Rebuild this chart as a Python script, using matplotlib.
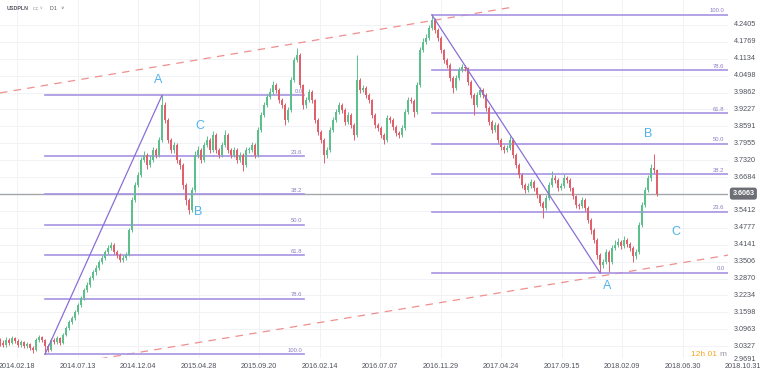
import numpy as np
import matplotlib
matplotlib.use("Agg")
import matplotlib.pyplot as plt

plt.rcParams['font.family'] = ['Liberation Sans', 'DejaVu Sans']

# USDPLN D1 (one candle kept per ~3 px of the original)
first_open = 3.050
closes = [3.045, 3.037, 3.056, 3.045, 3.063, 3.052, 3.037, 3.048, 3.033, 3.041,
          3.026, 3.018, 3.056, 3.067, 3.056, 3.033, 3.018, 3.056, 3.048, 3.063,
          3.045, 3.075, 3.101, 3.123, 3.138, 3.161, 3.187, 3.214, 3.244, 3.263,
          3.289, 3.311, 3.327, 3.349, 3.364, 3.387, 3.402, 3.413, 3.387, 3.376,
          3.357, 3.364, 3.376, 3.469, 3.582, 3.639, 3.676, 3.733, 3.752, 3.714,
          3.733, 3.770, 3.752, 3.808, 3.940, 3.883, 3.808, 3.770, 3.789, 3.733,
          3.714, 3.639, 3.582, 3.545, 3.620, 3.752, 3.770, 3.733, 3.789, 3.808,
          3.770, 3.827, 3.770, 3.752, 3.789, 3.827, 3.770, 3.752, 3.770, 3.733,
          3.752, 3.714, 3.770, 3.772, 3.789, 3.752, 3.846, 3.902, 3.940, 3.970,
          3.989, 4.015, 3.996, 3.958, 3.940, 3.883, 3.921, 4.034, 4.109, 4.128,
          4.015, 3.940, 3.958, 3.989, 3.958, 3.883, 3.838, 3.808, 3.752, 3.770,
          3.846, 3.883, 3.913, 3.940, 3.921, 3.876, 3.902, 3.864, 3.827, 4.034,
          3.996, 4.004, 3.977, 3.958, 3.902, 3.864, 3.853, 3.827, 3.808, 3.891,
          3.883, 3.857, 3.834, 3.827, 3.853, 3.913, 3.958, 3.955, 3.913, 4.015,
          4.146, 4.177, 4.192, 4.229, 4.259, 4.222, 4.192, 4.146, 4.109, 4.090,
          4.041, 4.004, 4.041, 4.071, 4.083, 4.079, 4.026, 3.977, 3.940, 3.977,
          3.996, 3.977, 3.928, 3.876, 3.846, 3.864, 3.808, 3.782, 3.770, 3.778,
          3.808, 3.752, 3.714, 3.676, 3.639, 3.620, 3.635, 3.650, 3.627, 3.601,
          3.571, 3.552, 3.590, 3.639, 3.665, 3.658, 3.627, 3.635, 3.665, 3.658,
          3.627, 3.597, 3.564, 3.560, 3.582, 3.552, 3.507, 3.469, 3.432, 3.376,
          3.338, 3.349, 3.387, 3.349, 3.402, 3.413, 3.424, 3.409, 3.432, 3.417,
          3.402, 3.372, 3.387, 3.488, 3.564, 3.620, 3.665, 3.703, 3.695, 3.6063]
highs = [3.062, 3.056, 3.066, 3.064, 3.071, 3.068, 3.058, 3.057, 3.053, 3.050,
         3.046, 3.032, 3.064, 3.075, 3.072, 3.060, 3.040, 3.063, 3.062, 3.070,
         3.068, 3.082, 3.110, 3.131, 3.147, 3.170, 3.196, 3.222, 3.252, 3.272,
         3.297, 3.320, 3.336, 3.358, 3.374, 3.396, 3.412, 3.425, 3.420, 3.395,
         3.383, 3.374, 3.386, 3.478, 3.592, 3.650, 3.688, 3.745, 3.768, 3.760,
         3.748, 3.782, 3.778, 3.820, 3.976, 3.952, 3.890, 3.815, 3.800, 3.795,
         3.742, 3.720, 3.645, 3.590, 3.630, 3.765, 3.785, 3.778, 3.800, 3.822,
         3.815, 3.840, 3.833, 3.778, 3.800, 3.845, 3.834, 3.778, 3.782, 3.776,
         3.764, 3.758, 3.780, 3.782, 3.800, 3.795, 3.856, 3.912, 3.952, 3.982,
         4.002, 4.030, 4.022, 4.002, 3.965, 3.946, 3.932, 4.045, 4.120, 4.154,
         4.134, 4.020, 3.970, 4.000, 3.995, 3.964, 3.890, 3.845, 3.815, 3.782,
         3.856, 3.895, 3.925, 3.952, 3.948, 3.928, 3.912, 3.910, 3.870, 4.128,
         4.042, 4.016, 4.010, 3.984, 3.964, 3.908, 3.872, 3.860, 3.834, 3.902,
         3.898, 3.890, 3.864, 3.842, 3.864, 3.924, 3.970, 3.968, 3.962, 4.026,
         4.158, 4.190, 4.206, 4.242, 4.278, 4.266, 4.230, 4.198, 4.152, 4.118,
         4.096, 4.048, 4.052, 4.082, 4.094, 4.090, 4.084, 4.032, 3.984, 3.988,
         4.008, 4.004, 3.984, 3.934, 3.882, 3.875, 3.870, 3.815, 3.790, 3.790,
         3.822, 3.814, 3.758, 3.720, 3.682, 3.646, 3.645, 3.662, 3.656, 3.632,
         3.606, 3.578, 3.600, 3.650, 3.690, 3.675, 3.664, 3.646, 3.680, 3.672,
         3.664, 3.632, 3.602, 3.572, 3.594, 3.588, 3.558, 3.514, 3.476, 3.440,
         3.384, 3.362, 3.398, 3.394, 3.414, 3.430, 3.440, 3.432, 3.446, 3.440,
         3.424, 3.408, 3.398, 3.498, 3.575, 3.632, 3.678, 3.718, 3.757, 3.700]
lows = [3.035, 3.028, 3.031, 3.038, 3.040, 3.044, 3.030, 3.031, 3.025, 3.027,
        3.018, 3.008, 3.014, 3.050, 3.048, 3.002, 3.010, 3.015, 3.040, 3.042,
        3.038, 3.041, 3.070, 3.095, 3.115, 3.132, 3.155, 3.180, 3.208, 3.236,
        3.256, 3.281, 3.302, 3.320, 3.341, 3.357, 3.380, 3.395, 3.378, 3.365,
        3.348, 3.350, 3.356, 3.370, 3.462, 3.575, 3.630, 3.668, 3.725, 3.700,
        3.705, 3.726, 3.742, 3.745, 3.800, 3.872, 3.796, 3.760, 3.760, 3.722,
        3.700, 3.625, 3.565, 3.530, 3.538, 3.612, 3.742, 3.722, 3.726, 3.780,
        3.760, 3.764, 3.760, 3.740, 3.745, 3.780, 3.760, 3.740, 3.745, 3.722,
        3.725, 3.690, 3.708, 3.760, 3.762, 3.740, 3.745, 3.838, 3.895, 3.932,
        3.962, 3.982, 3.985, 3.948, 3.930, 3.866, 3.875, 3.915, 4.026, 4.100,
        4.005, 3.925, 3.930, 3.950, 3.948, 3.872, 3.828, 3.795, 3.721, 3.740,
        3.762, 3.838, 3.875, 3.905, 3.910, 3.865, 3.868, 3.852, 3.808, 3.820,
        3.985, 3.988, 3.966, 3.948, 3.890, 3.852, 3.842, 3.815, 3.792, 3.800,
        3.872, 3.846, 3.822, 3.815, 3.820, 3.845, 3.905, 3.948, 3.895, 3.905,
        4.008, 4.138, 4.168, 4.185, 4.222, 4.212, 4.180, 4.135, 4.098, 4.080,
        4.030, 3.985, 3.996, 4.034, 4.062, 4.066, 4.015, 3.965, 3.903, 3.932,
        3.968, 3.966, 3.916, 3.864, 3.834, 3.838, 3.796, 3.770, 3.758, 3.762,
        3.770, 3.740, 3.702, 3.664, 3.626, 3.608, 3.612, 3.628, 3.616, 3.590,
        3.558, 3.515, 3.545, 3.582, 3.630, 3.648, 3.615, 3.618, 3.628, 3.646,
        3.615, 3.585, 3.552, 3.548, 3.552, 3.540, 3.495, 3.456, 3.420, 3.362,
        3.309, 3.326, 3.340, 3.311, 3.340, 3.395, 3.405, 3.398, 3.400, 3.405,
        3.390, 3.350, 3.360, 3.380, 3.480, 3.555, 3.612, 3.655, 3.682, 3.598]

fib_levels = [0.0, 23.6, 38.2, 50.0, 61.8, 78.6, 100.0]
date_labels = ['2014.02.18', '2014.07.13', '2014.12.04', '2015.04.28', '2015.09.20',
               '2016.02.14', '2016.07.07', '2016.11.29', '2017.04.24', '2017.09.15',
               '2018.02.09', '2018.06.30', '2018.10.31']
price_ticks = [4.2405, 4.1769, 4.1134, 4.0498, 3.9862, 3.9227, 3.8591, 3.7955,
               3.7320, 3.6684, 3.5412, 3.4777, 3.4141, 3.3506, 3.2870, 3.2234,
               3.1598, 3.0963, 3.0327, 2.9691]
# wave labels: (text, bar, price)
wave_labels = [('A', 52.7, 4.034), ('C', 66.7, 3.861), ('B', 66.0, 3.537),
               ('B', 216.0, 3.831), ('A', 202.3, 3.259), ('C', 225.3, 3.462)]
# dashed channel anchors: (bar, price)
upper_channel = [(0.0, 3.985), (170.0, 4.306)]
lower_channel = [(33.3, 2.985), (242.7, 3.375)]

n = len(closes)
x = np.arange(n)
closes = np.array(closes)
opens = np.concatenate([[first_open], closes[:-1]])
highs = np.array(highs)
lows = np.array(lows)

fig = plt.figure(figsize=(7.6, 3.74), dpi=100)
ax = fig.add_axes([0, 16 / 374, 728 / 760, 358 / 374])
x_max = 242.67
y_top, y_bot = 4.3345, 2.988
ax.set_xlim(0, x_max)
ax.set_ylim(y_bot, y_top)
for s in ax.spines.values():
    s.set_visible(False)

tick_x = 5.67 + 20.17 * np.arange(len(date_labels))
grid_c = '#f1f2f5'
for tx in tick_x:
    ax.axvline(tx, color=grid_c, lw=0.7, zorder=0)
for ty in price_ticks:
    ax.axhline(ty, color=grid_c, lw=0.7, zorder=0)

# channel
ax.plot(*zip(*upper_channel), color='#f08f8f', lw=0.9, ls=(0, (6, 5)), zorder=2)
ax.plot(*zip(*lower_channel), color='#f08f8f', lw=0.9, ls=(0, (6, 5)), zorder=2)

# candles
up = closes >= opens
cols = np.where(up, '#5cbf8c', '#e0606b')
ax.vlines(x, lows, highs, colors=cols, lw=0.7, zorder=3)
body = np.where(np.abs(closes - opens) < 0.003, 0.003, closes - opens)
ax.bar(x, body, bottom=opens, width=0.75, color=cols, lw=0, zorder=3)

fib_c = '#a894e2'
# left fib: swing low -> swing high
lo_l = int(np.argmin(lows[:60]))
hi_l = lo_l + int(np.argmax(highs[lo_l:60]))
p_lo, p_hi = lows[lo_l], highs[hi_l]
for lv in fib_levels:
    p = p_hi - lv / 100 * (p_hi - p_lo)
    ax.plot([lo_l, 101.3], [p, p], color=fib_c, lw=1.2, zorder=2.5)
    ax.text(100.8, p + 0.006, f'{lv:.1f}', color='#8e7cc3', fontsize=4.2,
            ha='right', va='bottom', zorder=2.5)
ax.plot([lo_l, hi_l], [p_lo, p_hi], color='#8a6fd6', lw=0.9, zorder=4)

# right fib: swing high -> swing low
hi_r = int(np.argmax(highs))
lo_r = hi_r + int(np.argmin(lows[hi_r:]))
q_hi, q_lo = highs[hi_r], lows[lo_r]
for lv in fib_levels:
    p = q_lo + lv / 100 * (q_hi - q_lo)
    ax.plot([hi_r, x_max], [p, p], color=fib_c, lw=1.2, zorder=2.5)
    ax.text(x_max - 1.2, p + 0.006, f'{lv:.1f}', color='#8e7cc3', fontsize=4.2,
            ha='right', va='bottom', zorder=2.5)
ax.plot([hi_r, lo_r], [q_hi, q_lo], color='#8a6fd6', lw=0.9, zorder=4)

for t, bx, by in wave_labels:
    ax.text(bx, by, t, color='#4fb3ea', fontsize=9, ha='center', va='center', zorder=5)

# last price line
last = closes[-1]
ax.axhline(last, color='#a3a6ab', lw=1.0, zorder=2)

# price scale
for ty in price_ticks:
    if ty > y_bot:
        ax.text(1.008, ty, f'{ty:.4f}', transform=ax.get_yaxis_transform(),
                fontsize=5.2, color='#50535e', va='center', ha='left')
ax.text(1.008, -0.003, f'{price_ticks[-1]:.4f}', transform=ax.transAxes,
        fontsize=5.2, color='#50535e', va='center', ha='left')
ax.text(1.006, last, f'{last:.4f}', transform=ax.get_yaxis_transform(),
        fontsize=5.2, color='white', fontweight='bold', va='center', ha='left',
        bbox=dict(boxstyle='round,pad=0.35', fc='#6b6e75', ec='none'))

# time scale
for tx, lab in zip(tick_x, date_labels):
    ax.text(tx, -0.025, lab, transform=ax.get_xaxis_transform(), fontsize=5.2,
            color='#50535e', ha='center', va='center', clip_on=False)

ax.set_xticks([])
ax.set_yticks([])

# header / countdown
fig.text(7 / 760, 1 - 8 / 374, 'USDPLN', fontsize=3.8, fontweight='bold', color='#50535e', va='center')
fig.text(33 / 760, 1 - 8 / 374, 'cc ˅', fontsize=3.8, color='#9598a1', va='center')
fig.text(50 / 760, 1 - 8 / 374, 'D1   ˅', fontsize=3.8, color='#50535e', va='center')
fig.text(0.944, 0.052, '12h 01', fontsize=6, color='#f5a623', va='center', ha='right')
fig.text(0.947, 0.052, 'm', fontsize=6, color='#9598a1', va='center', ha='left')

fig.savefig('out.png', dpi=100)
